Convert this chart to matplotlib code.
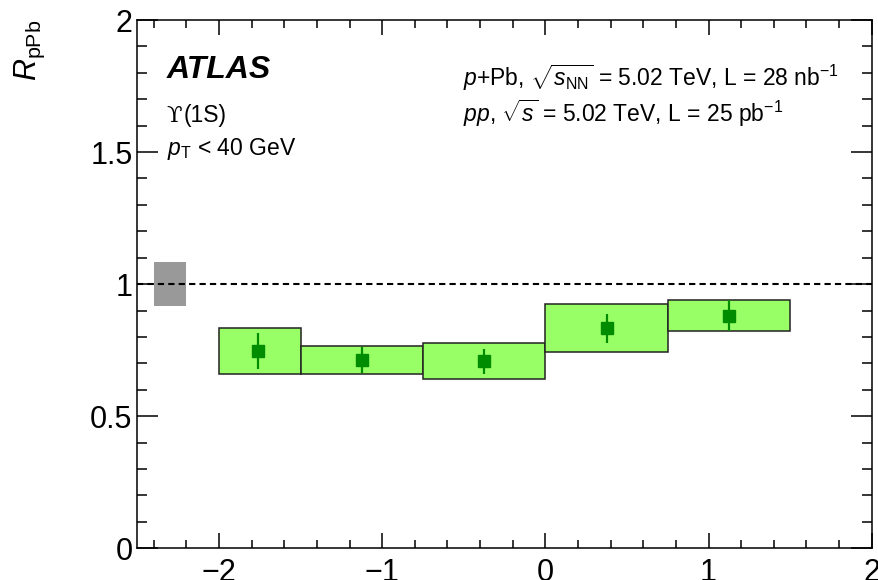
import matplotlib
matplotlib.use("Agg")
import matplotlib.pyplot as plt
from matplotlib.ticker import MultipleLocator, FuncFormatter

plt.rcParams['font.family'] = ['Liberation Sans', 'DejaVu Sans']
plt.rcParams['mathtext.fontset'] = 'custom'
plt.rcParams['mathtext.rm'] = 'Liberation Sans'
plt.rcParams['mathtext.it'] = 'Liberation Sans:italic'
plt.rcParams['mathtext.bf'] = 'Liberation Sans:bold'

# rapidity bins (y*) and Upsilon(1S) nuclear modification factor
bin_lo = [-2.0, -1.5, -0.75, 0.0, 0.75]
bin_hi = [-1.5, -0.75, 0.0, 0.75, 1.5]
y_mean = [-1.76, -1.125, -0.375, 0.375, 1.125]
rpPb = [0.747, 0.713, 0.708, 0.833, 0.881]
stat_err = [0.068, 0.048, 0.047, 0.054, 0.058]
syst_err = [0.087, 0.052, 0.068, 0.091, 0.058]

# global normalisation uncertainty
glob_err = 0.084
glob_x = [-2.4, -2.2]

fig = plt.figure(figsize=(8.79, 5.80), dpi=100)
ax = fig.add_axes([0.1564, 0.0547, 0.9917 - 0.1564, 0.9655 - 0.0547])

# systematic boxes
widths = [h - l for l, h in zip(bin_lo, bin_hi)]
bottoms = [v - e for v, e in zip(rpPb, syst_err)]
heights = [2 * e for e in syst_err]
ax.bar(bin_lo, heights, width=widths, bottom=bottoms, align='edge',
       color='#99ff66', edgecolor='#222222', linewidth=1.1, zorder=2)

# global uncertainty box at unity
ax.bar(glob_x[0], 2 * glob_err, width=glob_x[1] - glob_x[0], bottom=1 - glob_err,
       align='edge', color='#999999', edgecolor='none', zorder=2)

ax.axhline(1.0, color='black', lw=1.5, ls=(0, (3, 2)), zorder=3)

ax.errorbar(y_mean, rpPb, yerr=stat_err, fmt='s', color='#008c00',
            markersize=8, elinewidth=1.6, capsize=0, zorder=4)

ax.set_xlim(-2.5, 2.0)
ax.set_ylim(0, 2)

ax.xaxis.set_major_locator(MultipleLocator(1))
ax.xaxis.set_minor_locator(MultipleLocator(0.2))
ax.yaxis.set_major_locator(MultipleLocator(0.5))
ax.yaxis.set_minor_locator(MultipleLocator(0.1))
ax.yaxis.set_major_formatter(FuncFormatter(lambda v, p: f'{v:g}'))

for s in ax.spines.values():
    s.set_linewidth(1.1)

ax.tick_params(axis='x', which='both', direction='in', top=True, labelsize=22, pad=7)
ax.tick_params(axis='x', which='major', length=11, width=1.1)
ax.tick_params(axis='x', which='minor', length=5.5, width=1.1)
ax.tick_params(axis='y', which='both', direction='in', right=True, labelsize=22, pad=3.5)
ax.tick_params(axis='y', which='major', length=15, width=1.1)
ax.tick_params(axis='y', which='minor', length=7.5, width=1.1)

fig.text(0.034, 0.9655, r'$R_{\mathrm{pPb}}$', rotation=90, ha='center', va='top', fontsize=22)

fig.text(0.1897, 0.8655, 'ATLAS', fontsize=23, fontweight='bold', fontstyle='italic',
         va='baseline')
fig.text(0.1897, 0.790, 'ϒ', fontsize=16.5, va='baseline', family='DejaVu Serif')
fig.text(0.2090, 0.790, '(1S)', fontsize=16.5, va='baseline')
fig.text(0.1897, 0.733, r'$p_{\mathrm{T}}$ < 40 GeV', fontsize=16.5, va='baseline')

fig.text(0.5264, 0.8517, r'$p$+Pb, $\sqrt{s_{\mathrm{NN}}}$ = 5.02 TeV, L = 28 nb$^{\mathrm{-1}}$',
         fontsize=16.5, va='baseline')
fig.text(0.5264, 0.790, r'$pp$, $\sqrt{s}$ = 5.02 TeV, L = 25 pb$^{\mathrm{-1}}$',
         fontsize=16.5, va='baseline')

fig.savefig('out.png', dpi=100)
